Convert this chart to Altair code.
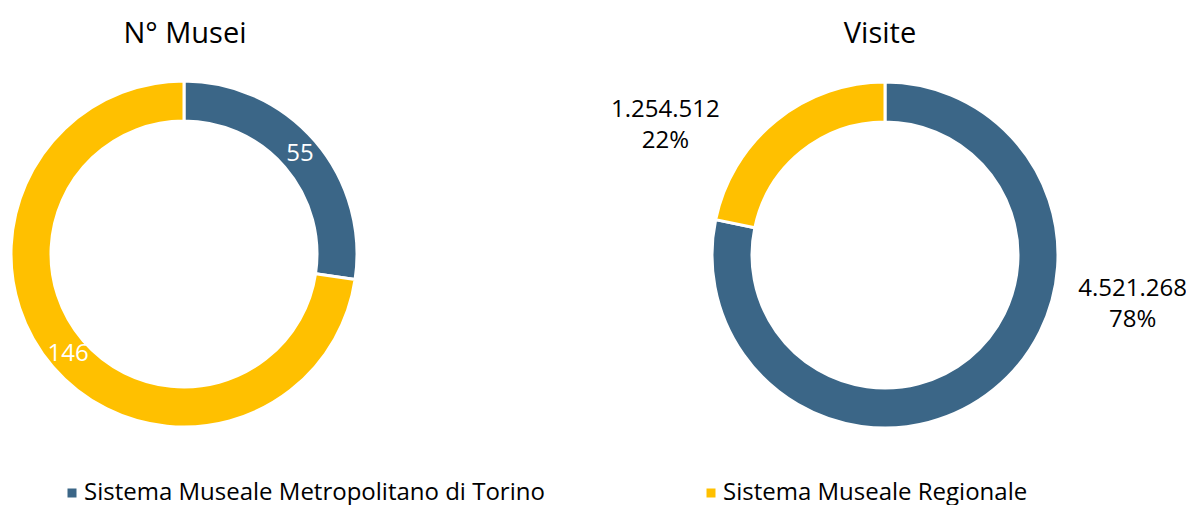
import altair as alt
import pandas as pd

# ---- data ----
categories = ["Sistema Museale Metropolitano di Torino", "Sistema Museale Regionale"]
musei = [55, 146]
visite = [4521268, 1254512]
titles = ["N° Musei", "Visite"]
colors = ["#3B6687", "#FFC000"]
stack_order = [0, 1]


def fmt_it(n):
    return f"{n:,}".replace(",", ".")


tot_v = sum(visite)
df_m = pd.DataFrame({"cat": categories, "val": musei, "ord": stack_order,
                     "label": [str(v) for v in musei]})
df_v = pd.DataFrame({"cat": categories, "val": visite, "ord": stack_order,
                     "label": [f"{fmt_it(v)}\n{round(100 * v / tot_v)}%" for v in visite]})

# ---- layout ----
FONT = "Open Sans"
CX_L, CY_L = 176, 246
CX_R, CY_R = 877, 247
R_IN, R_OUT = 133, 173
R_MID = (R_IN + R_OUT) / 2

color = alt.Color(
    "cat:N",
    scale=alt.Scale(domain=categories, range=colors),
    legend=alt.Legend(
        title=None, orient="none", legendX=52, legendY=473, direction="horizontal",
        symbolType="square", symbolSize=81, symbolStrokeWidth=0,
        labelFont=FONT, labelFontSize=24, labelColor="#000000", labelOffset=0,
        columnPadding=154, padding=0, labelLimit=0,
    ),
)
theta = alt.Theta("val:Q", stack=True)
order = alt.Order("ord:Q")

arc_style = dict(innerRadius=R_IN, outerRadius=R_OUT, stroke="white", strokeWidth=3)

arc_l = alt.Chart(df_m).mark_arc(x=CX_L, y=CY_L, **arc_style).encode(
    theta=theta, color=color, order=order)
txt_l = alt.Chart(df_m).mark_text(
    x=CX_L, y=CY_L, radius=R_MID, font=FONT, fontSize=24, color="white",
    align="center", baseline="middle").encode(theta=theta, order=order, text="label:N")

arc_r = alt.Chart(df_v).mark_arc(x=CX_R, y=CY_R, **arc_style).encode(
    theta=theta, color=color, order=order)

# outside labels for the right donut: placed at the mid-angle of each slice, then nudged
lbl_base = alt.Chart(df_v).transform_joinaggregate(
    total="sum(val)"
).transform_window(
    cum="sum(val)", sort=[alt.SortField("ord")]
).transform_calculate(
    mid="(datum.cum - datum.val / 2) / datum.total"
)
lbl_common = dict(x=CX_R, y=CY_R, radius=215, font=FONT, fontSize=24, color="black",
                  align="center", baseline="middle", lineBreak="\n", lineHeight=31)
theta_mid = alt.Theta("mid:Q", scale=alt.Scale(domain=[0, 1]))
txt_r0 = lbl_base.transform_filter(alt.datum.ord == 0).mark_text(
    dx=112, dy=-133, **lbl_common).encode(theta=theta_mid, text="label:N")
txt_r1 = lbl_base.transform_filter(alt.datum.ord == 1).mark_text(
    dx=-84, dy=22, **lbl_common).encode(theta=theta_mid, text="label:N")

df_t = pd.DataFrame({"t": titles})
title_l = alt.Chart(df_t).transform_filter(alt.datum.t == titles[0]).mark_text(
    x=177, y=35, font=FONT, fontSize=29, baseline="alphabetic", align="center").encode(text="t:N")
title_r = alt.Chart(df_t).transform_filter(alt.datum.t == titles[1]).mark_text(
    x=872, y=35, font=FONT, fontSize=29, baseline="alphabetic", align="center").encode(text="t:N")

chart = alt.layer(arc_l, txt_l, arc_r, txt_r0, txt_r1, title_l, title_r).resolve_scale(
    theta="independent"
).properties(
    width=1178, height=497, padding=0,
    autosize=alt.AutoSizeParams(type="none"),
).configure_view(stroke=None)

chart.save("out.html", embed_options={"renderer": "svg", "actions": False})
